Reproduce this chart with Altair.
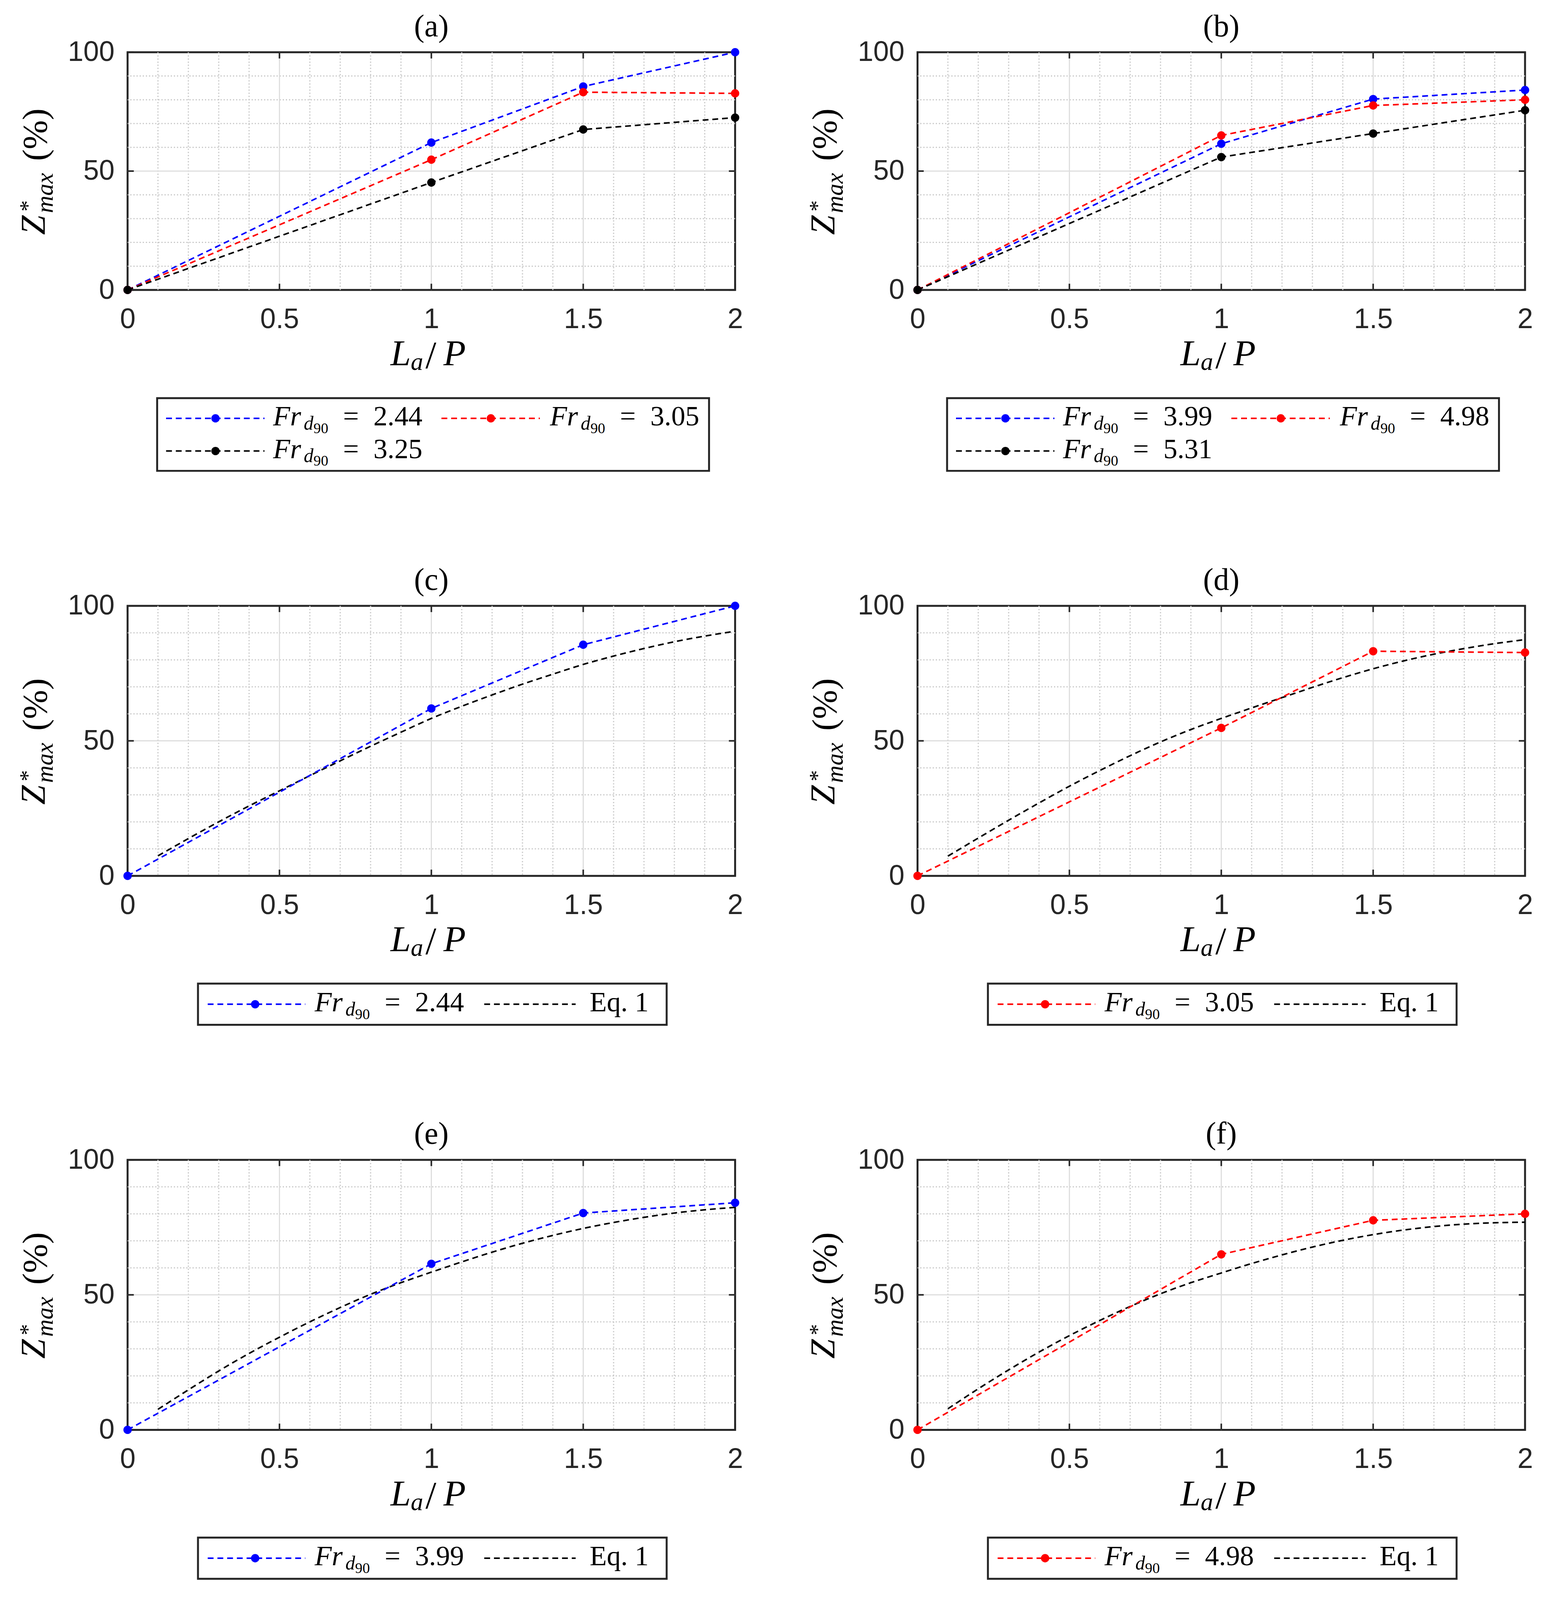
import altair as alt
import pandas as pd

# ---------------- data ----------------
LA_P = [0, 1, 1.5, 2]
FR_244 = [0, 62.0, 85.6, 100.0]
FR_305 = [0, 54.8, 83.2, 82.7]
FR_325 = [0, 45.2, 67.5, 72.5]
FR_399 = [0, 61.5, 80.3, 84.1]
FR_498 = [0, 65.0, 77.6, 80.0]
FR_531 = [0, 55.9, 65.8, 75.6]

EQ_X = [0.1, 0.2, 0.3, 0.4, 0.5, 0.6, 0.7, 0.8, 0.9, 1.0,
        1.1, 1.2, 1.3, 1.4, 1.5, 1.6, 1.7, 1.8, 1.9, 2.0]
EQ_C = [7.4, 13.8, 20.0, 25.9, 31.5, 37.1, 42.6, 48.0, 53.2, 58.3,
        62.8, 67.0, 71.0, 74.7, 78.3, 81.4, 84.2, 86.7, 88.8, 90.6]
EQ_D = [7.3, 14.0, 20.6, 27.0, 33.2, 39.0, 44.5, 49.6, 54.2, 58.3,
        62.2, 66.0, 69.8, 73.4, 76.7, 79.6, 82.1, 84.2, 86.0, 87.5]
EQ_E = [7.6, 14.8, 21.8, 28.3, 34.3, 40.0, 45.3, 50.2, 54.5, 58.4,
        62.2, 65.8, 69.1, 72.0, 74.6, 76.8, 78.7, 80.3, 81.5, 82.4]
EQ_F = [7.8, 15.2, 22.2, 28.8, 34.9, 40.5, 45.7, 50.4, 54.5, 58.1,
        61.6, 64.8, 67.7, 70.2, 72.3, 74.0, 75.3, 76.2, 76.7, 76.9]

FR_LABELS = ["2.44", "3.05", "3.25", "3.99", "4.98", "5.31"]
EQ_LABEL = "Eq. 1"
PANEL_TITLES = ["(a)", "(b)", "(c)", "(d)", "(e)", "(f)"]

X_TICKS = [0, 0.5, 1, 1.5, 2]
Y_TICKS = [0, 50, 100]
X_MINOR = [0.1, 0.2, 0.3, 0.4, 0.6, 0.7, 0.8, 0.9,
           1.1, 1.2, 1.3, 1.4, 1.6, 1.7, 1.8, 1.9]
Y_MINOR = [10, 20, 30, 40, 60, 70, 80, 90]

# ---------------- styling / layout ----------------
BLUE, RED, BLACK = "#0000ff", "#ff0000", "#000000"
AX = "#262626"
SERIF = "Liberation Serif"
SANS = "Liberation Sans"
VS = 0.946          # vertical compaction so the whole figure fits the visible page


def v(val):
    return round(val * VS)


W = 1562
H1 = v(646)
H2 = v(734)
DASH = [15, 10]
LW = 4
DOT = 460
LF = 72  # legend font size
TF = 72  # tick font size

xs = alt.Scale(domain=[0, 2], nice=False, zero=False)
ys = alt.Scale(domain=[0, 100], nice=False, zero=False)

XAXIS = alt.Axis(values=X_TICKS, format="~g", title="", grid=False, ticks=False,
                 domain=False, labelFont=SANS, labelFontSize=TF, labelColor=AX,
                 labelPadding=v(43), labelFlush=False, labelOverlap=False)
YAXIS = alt.Axis(values=Y_TICKS, format="d", title="", grid=False, ticks=False,
                 domain=False, labelFont=SANS, labelFontSize=TF, labelColor=AX,
                 labelPadding=34, labelFlush=False, labelOverlap=False)


def X(f="x"):
    return alt.X(f + ":Q", scale=xs, axis=XAXIS)


def Y(f="y"):
    return alt.Y(f + ":Q", scale=ys, axis=YAXIS)


def one():
    return alt.Data(values=[{"k": 0}])


def txt(x, y, s, size, italic=False, angle=0, align="left"):
    kw = dict(text=s, font=SERIF, fontSize=size, align=align,
              baseline="alphabetic", color="black")
    if italic:
        kw["fontStyle"] = "italic"
    if angle:
        kw["angle"] = angle
    return alt.Chart(one()).mark_text(**kw).encode(x=alt.value(x), y=alt.value(y))


def grid_layers(h):
    L = []
    L.append(alt.Chart(pd.DataFrame({"x": X_MINOR})).mark_rule(
        color="#c6c6c6", strokeWidth=3, strokeDash=[3, 5]).encode(x=X()))
    L.append(alt.Chart(pd.DataFrame({"y": Y_MINOR})).mark_rule(
        color="#c6c6c6", strokeWidth=3, strokeDash=[3, 5]).encode(y=Y()))
    L.append(alt.Chart(pd.DataFrame({"x": X_TICKS[1:-1]})).mark_rule(
        color="#dedede", strokeWidth=3).encode(x=X()))
    L.append(alt.Chart(pd.DataFrame({"y": Y_TICKS[1:-1]})).mark_rule(
        color="#dedede", strokeWidth=3).encode(y=Y()))
    tk = 16
    dfx = pd.DataFrame({"x": X_TICKS})
    dfy = pd.DataFrame({"y": Y_TICKS})
    L.append(alt.Chart(dfx).mark_rule(color=AX, strokeWidth=4).encode(
        x=X(), y=alt.value(h), y2=alt.value(h - tk)))
    L.append(alt.Chart(dfx).mark_rule(color=AX, strokeWidth=4).encode(
        x=X(), y=alt.value(0), y2=alt.value(tk)))
    L.append(alt.Chart(dfy).mark_rule(color=AX, strokeWidth=4).encode(
        y=Y(), x=alt.value(0), x2=alt.value(tk)))
    L.append(alt.Chart(dfy).mark_rule(color=AX, strokeWidth=4).encode(
        y=Y(), x=alt.value(W), x2=alt.value(W - tk)))
    return L


def fr_text(tx, ty, value):
    return [txt(tx, ty, "Fr", LF, True),
            txt(tx + 79, ty + 11, "d", 50, True),
            txt(tx + 104, ty + 20, "90", 38),
            txt(tx + 180, ty, "=", LF),
            txt(tx + 258, ty, value, LF)]


def legend_line(x0, x1, y, color, dot_x=None):
    L = [alt.Chart(one()).mark_rule(color=color, strokeWidth=LW, strokeDash=DASH).encode(
        x=alt.value(x0), x2=alt.value(x1), y=alt.value(y))]
    if dot_x is not None:
        L.append(alt.Chart(one()).mark_circle(color=color, size=DOT, opacity=1).encode(
            x=alt.value(dot_x), y=alt.value(y)))
    return L


def panel(title, series, eq, h):
    names = [s[0] for s in series]
    colors = [s[2] for s in series]
    rows = []
    for name, vals, _ in series:
        for xv, yv in zip(LA_P, vals):
            rows.append({"x": xv, "y": yv, "s": name})
    df = pd.DataFrame(rows)
    cscale = alt.Scale(domain=names, range=colors)

    layers = grid_layers(h)

    if eq is not None:
        layers.append(alt.Chart(pd.DataFrame({"x": EQ_X, "y": eq})).mark_line(
            color=BLACK, strokeWidth=LW, strokeDash=DASH, interpolate="monotone").encode(
            x=X(), y=Y()))

    layers.append(alt.Chart(df).mark_line(strokeWidth=LW, strokeDash=DASH).encode(
        x=X(), y=Y(), color=alt.Color("s:N", scale=cscale, legend=None)))
    layers.append(alt.Chart(df).mark_circle(size=DOT, opacity=1).encode(
        x=X(), y=Y(), color=alt.Color("s:N", scale=cscale, legend=None)))

    # panel title
    layers.append(txt(W / 2, -v(43), title, 80, align="center"))

    # y-axis title  Z*_max (%)
    c = h / 2
    layers += [txt(-214, c + v(173), "Z", 90, True, 270),
               txt(-238, c + v(110), "*", 58, False, 270),
               txt(-192, c + v(114), "max", 62, True, 270),
               txt(-209, c - v(28), "(%)", 90, False, 270)]

    # x-axis title  L_a/P
    layers += [txt(676, h + v(205), "L", 94, True),
               txt(728, h + v(218), "a", 64, True),
               txt(766, h + v(212), "/", 100),
               txt(812, h + v(205), "P", 94, True)]

    # legend
    if eq is None:
        layers.append(alt.Chart(one()).mark_rect(fill="white", stroke=AX, strokeWidth=5).encode(
            x=alt.value(76), x2=alt.value(1495), y=alt.value(h + v(294)), y2=alt.value(h + v(492))))
        spots = [(99, 352, 226, 374, h + v(349)), (807, 1060, 934, 1086, h + v(349)),
                 (99, 352, 226, 374, h + v(438))]
        for (name, _, col), (x0, x1, dx, tx, ly) in zip(series, spots):
            layers += legend_line(x0, x1, ly, col, dx)
            layers += fr_text(tx, ly + 18, name)
    else:
        layers.append(alt.Chart(one()).mark_rect(fill="white", stroke=AX, strokeWidth=5).encode(
            x=alt.value(181), x2=alt.value(1386), y=alt.value(h + v(293)), y2=alt.value(h + v(405))))
        ly = h + v(349)
        name, _, col = series[0]
        layers += legend_line(206, 457, ly, col, 328)
        layers += fr_text(481, ly + 18, name)
        layers += legend_line(917, 1152, ly, BLACK)
        layers.append(txt(1188, ly + 18, EQ_LABEL, LF))

    return alt.layer(*layers).properties(width=W, height=h)


pa = panel(PANEL_TITLES[0], [(FR_LABELS[0], FR_244, BLUE), (FR_LABELS[1], FR_305, RED),
                             (FR_LABELS[2], FR_325, BLACK)], None, H1)
pb = panel(PANEL_TITLES[1], [(FR_LABELS[3], FR_399, BLUE), (FR_LABELS[4], FR_498, RED),
                             (FR_LABELS[5], FR_531, BLACK)], None, H1)
pc = panel(PANEL_TITLES[2], [(FR_LABELS[0], FR_244, BLUE)], EQ_C, H2)
pd_ = panel(PANEL_TITLES[3], [(FR_LABELS[1], FR_305, RED)], EQ_D, H2)
pe = panel(PANEL_TITLES[4], [(FR_LABELS[3], FR_399, BLUE)], EQ_E, H2)
pf = panel(PANEL_TITLES[5], [(FR_LABELS[4], FR_498, RED)], EQ_F, H2)

HSP = 157
row1 = alt.hconcat(pa, pb, spacing=HSP)
row2 = alt.hconcat(pc, pd_, spacing=HSP)
row3 = alt.hconcat(pe, pf, spacing=HSP)

chart = alt.vconcat(row1, row2, row3, spacing=234).properties(
    padding={"left": 31, "top": 10, "right": 10, "bottom": 10},
    background="white",
).configure_view(stroke=AX, strokeWidth=5)

chart.save("out.html", embed_options={"renderer": "svg", "actions": False})
